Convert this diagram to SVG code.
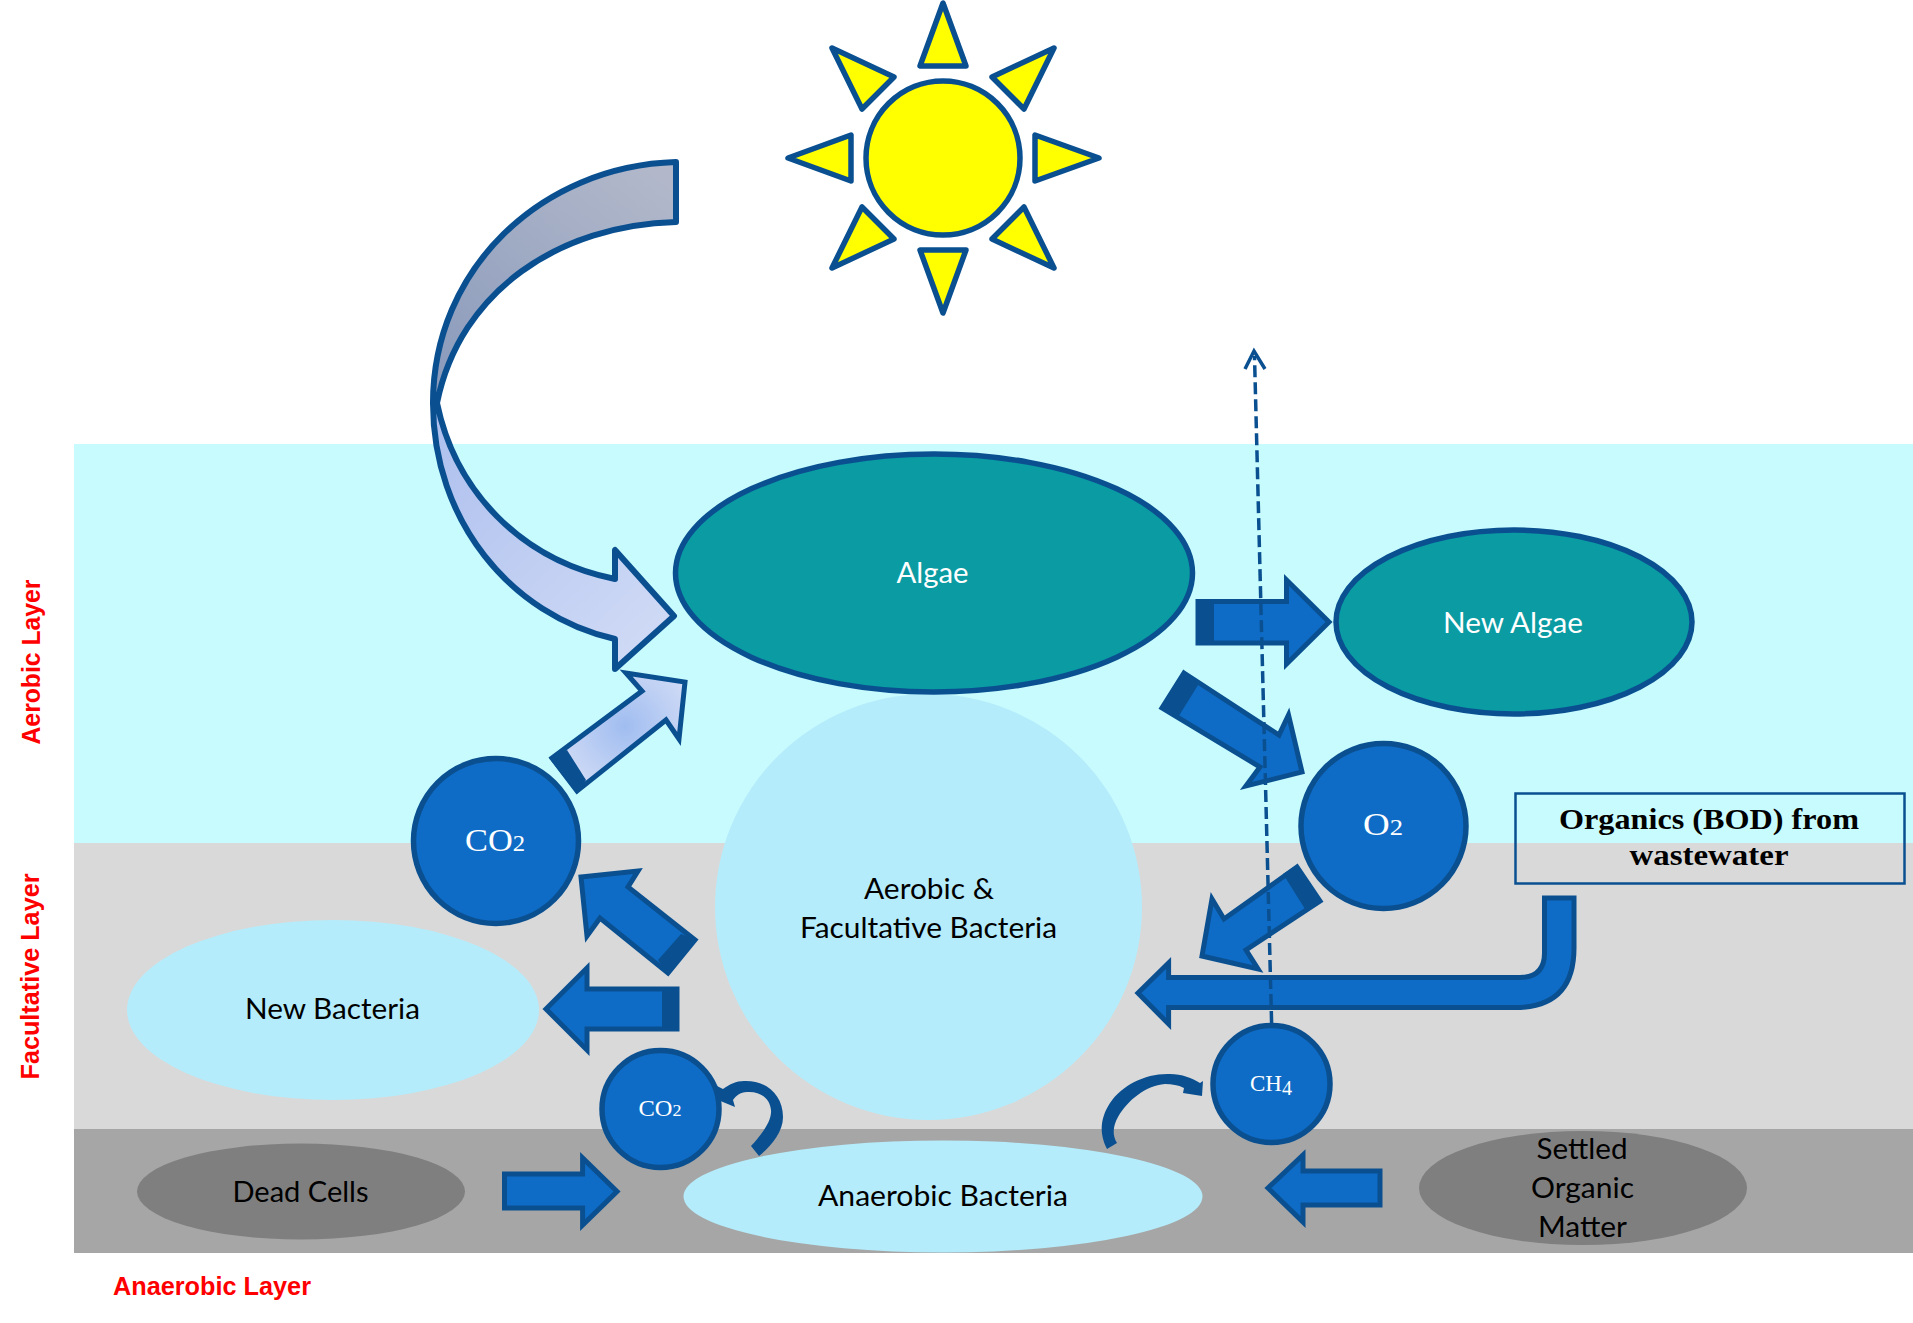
<svg xmlns="http://www.w3.org/2000/svg" width="1913" height="1323" viewBox="0 0 1913 1323">
<defs>
<linearGradient id="gUp" gradientUnits="userSpaceOnUse" x1="640" y1="160" x2="440" y2="410"><stop offset="0" stop-color="#b2b8ca"/><stop offset="1" stop-color="#8899bb"/></linearGradient>
<linearGradient id="gDown" gradientUnits="userSpaceOnUse" x1="440" y1="420" x2="670" y2="660"><stop offset="0" stop-color="#aec0ee"/><stop offset="1" stop-color="#d2dcf6"/></linearGradient>
<radialGradient id="gCo2" gradientUnits="userSpaceOnUse" cx="625" cy="726" r="75"><stop offset="0" stop-color="#a0bdf0"/><stop offset="1" stop-color="#d2dcf6"/></radialGradient>
</defs>
<style>
.band{stroke:none}
.line{stroke:#0a5091;stroke-width:5.5;stroke-linejoin:round}
.teal{fill:#0a9ba3}
.blue{fill:#0f6cc6}
.pale{fill:#b5ecfb}
.grey{fill:#7f7f7f}
.sun{fill:#ffff00;stroke:#0a5091;stroke-width:5.5;stroke-linejoin:round}
.arr{fill:#0f6cc6;stroke:#0a5091;stroke-width:5;stroke-linejoin:miter}
.tail{fill:#0a5091;stroke:none}
.cur{fill:#0a5091;stroke:none}
.lb{font-family:"Lato","Liberation Sans",sans-serif;font-size:29px;text-anchor:middle}
.sf{font-family:"Liberation Serif",serif;text-anchor:middle;fill:#fff}
.w{fill:#fff}
.k{fill:#000}
.red{font-family:"Liberation Sans",sans-serif;font-weight:700;font-size:26px;fill:#ff0000;text-anchor:middle}
.bod{font-family:"Liberation Serif",serif;font-weight:700;font-size:29px;fill:#000;text-anchor:middle}
</style>

<g id="layers">
<rect class="band" x="74" y="444" width="1839" height="399" fill="#c8fbfd"/>
<rect class="band" x="74" y="843" width="1839" height="286" fill="#d9d9d9"/>
<rect class="band" x="74" y="1129" width="1839" height="124" fill="#a6a6a6"/>
</g>

<g id="sun">
<circle class="sun" cx="943" cy="158" r="77"/>
<polygon class="sun" points="943,3 920,66 966,66"/>
<polygon class="sun" points="943,313 920,250 966,250"/>
<polygon class="sun" points="788,158 851,135 851,181"/>
<polygon class="sun" points="1099,158 1035,135 1035,181"/>
<polygon class="sun" points="832,48 894,77 862,109"/>
<polygon class="sun" points="1054,48 992,77 1024,109"/>
<polygon class="sun" points="832,268 894,239 862,207"/>
<polygon class="sun" points="1054,268 992,239 1024,207"/>
</g>

<g id="node-aerobic-bacteria">
<ellipse class="pale" cx="928.5" cy="907" rx="213.5" ry="213"/>
<text class="lb k" x="929" y="899" textLength="130" lengthAdjust="spacingAndGlyphs">Aerobic &amp;</text>
<text class="lb k" x="928.5" y="938" textLength="257" lengthAdjust="spacingAndGlyphs">Facultative Bacteria</text>
</g>
<g id="node-algae">
<ellipse class="teal line" cx="934" cy="573" rx="258.5" ry="119"/>
<text class="lb w" x="932.5" y="583" textLength="72" lengthAdjust="spacingAndGlyphs">Algae</text>
</g>
<g id="node-new-algae">
<ellipse class="teal line" cx="1514" cy="622" rx="178" ry="92"/>
<text class="lb w" x="1513" y="633" textLength="140" lengthAdjust="spacingAndGlyphs">New Algae</text>
</g>
<g id="node-co2-large">
<circle class="blue line" cx="496" cy="841" r="82.5"/>
<text class="sf" x="495" y="851" font-size="32" textLength="60" lengthAdjust="spacingAndGlyphs">CO<tspan font-size="23">2</tspan></text>
</g>
<g id="node-o2">
<circle class="blue line" cx="1383.5" cy="826" r="82.5"/>
<text class="sf" x="1383" y="835" font-size="32" textLength="40" lengthAdjust="spacingAndGlyphs">O<tspan font-size="23">2</tspan></text>
</g>
<g id="node-new-bacteria">
<ellipse class="pale" cx="333" cy="1010" rx="206" ry="90"/>
<text class="lb k" x="332.5" y="1019" textLength="175" lengthAdjust="spacingAndGlyphs">New Bacteria</text>
</g>
<g id="node-co2-small">
<circle class="blue line" cx="660.5" cy="1109" r="58.5"/>
<text class="sf" x="660" y="1116" font-size="23" textLength="43" lengthAdjust="spacingAndGlyphs">CO<tspan font-size="17">2</tspan></text>
</g>
<g id="node-ch4">
<circle class="blue line" cx="1271.5" cy="1084" r="58.5"/>
<text class="sf" x="1271" y="1091" font-size="24" textLength="42" lengthAdjust="spacingAndGlyphs">CH<tspan font-size="21" dy="4">4</tspan></text>
</g>
<g id="node-dead-cells">
<ellipse class="grey" cx="301" cy="1191.5" rx="164" ry="48"/>
<text class="lb k" x="300.5" y="1201.5" textLength="136" lengthAdjust="spacingAndGlyphs">Dead Cells</text>
</g>
<g id="node-anaerobic-bacteria">
<ellipse class="pale" cx="943" cy="1196.5" rx="259.5" ry="56"/>
<text class="lb k" x="943" y="1206" textLength="250" lengthAdjust="spacingAndGlyphs">Anaerobic Bacteria</text>
</g>
<g id="node-settled">
<ellipse class="grey" cx="1583" cy="1188" rx="164" ry="57"/>
<text class="lb k" x="1582" y="1159" textLength="91" lengthAdjust="spacingAndGlyphs">Settled</text>
<text class="lb k" x="1582.5" y="1198" textLength="103" lengthAdjust="spacingAndGlyphs">Organic</text>
<text class="lb k" x="1582.5" y="1237" textLength="89" lengthAdjust="spacingAndGlyphs">Matter</text>
</g>
<g id="node-bod">
<rect x="1515.5" y="793.5" width="389" height="90" fill="none" stroke="#0a5091" stroke-width="2.5"/>
<text class="bod" x="1709" y="829" textLength="300" lengthAdjust="spacingAndGlyphs">Organics (BOD) from</text>
<text class="bod" x="1709" y="865" textLength="159" lengthAdjust="spacingAndGlyphs">wastewater</text>
</g>

<g id="connectors">
<path d="M676,162 C540,166 433,270 433,403 L437,403 C460,290 560,225 676,222 Z" fill="url(#gUp)" stroke="#0a5091" stroke-width="6" stroke-linejoin="round"/>
<path d="M433,403 C433,520 510,615 615,639 L615,669 L674,616 L615,550 L615,579 C520,560 455,490 437,403 Z" fill="url(#gDown)" stroke="#0a5091" stroke-width="6" stroke-linejoin="round"/>

<g id="co2-to-algae">
<path d="M552,758 L642,691 L626,673 L685,682 L679,739 L666,720 L577,791 Z" fill="url(#gCo2)" stroke="#0a5091" stroke-width="5"/>
<path class="tail" d="M549,758 L567,750 L586,780 L577,794 Z"/>
</g>
<g id="algae-to-newalgae">
<path class="arr" d="M1198,601.5 L1286.5,601.5 L1286.5,580 L1329,622 L1286.5,664 L1286.5,643 L1198,643 Z"/>
<rect class="tail" x="1196" y="600" width="18" height="44.5"/>
</g>
<g id="algae-to-o2">
<path class="arr" d="M1184,673 L1279,735 L1288.5,715 L1302,772 L1246,786 L1260,767 L1162,708 Z"/>
<path class="tail" d="M1183.5,671 L1200,682 L1177,719 L1160,708 Z"/>
</g>
<g id="o2-to-bod">
<path class="arr" d="M1297,867 L1224,919 L1212,899 L1202,956 L1258,969 L1246,950 L1320,901 Z"/>
<path class="tail" d="M1297,865 L1321.5,901 L1305,909 L1283,874 Z"/>
</g>
<path id="bod-to-bacteria" class="arr" d="M1138,993 L1168.6,963 L1168.6,977.5 L1520,977.5 Q1544.5,977.5 1544.5,953 L1544.5,898 L1574,898 L1574,948 Q1574,1007.5 1515,1007.5 L1168.6,1007.5 L1168.6,1024 Z"/>
<g id="bacteria-to-co2">
<path class="arr" d="M581,877 L638,871 L628,887 L695,940 L668,973 L600,918 L587,936 Z"/>
<path class="tail" d="M696.5,939.6 L668,975 L658,960 L681,934 Z"/>
</g>
<g id="bacteria-to-newbacteria">
<path class="arr" d="M546,1009 L587,968 L587,989 L677,989 L677,1029 L587,1029 L587,1050 Z"/>
<rect class="tail" x="662" y="987" width="16.5" height="44"/>
</g>
<path id="dead-to-co2" class="arr" d="M504.5,1174 L582.6,1174 L582.6,1158 L617,1191.5 L582.6,1225 L582.6,1208 L504.5,1208 Z"/>
<path id="settled-to-ch4" class="arr" d="M1380,1171 L1303,1171 L1303,1155 L1268,1188 L1303,1222 L1303,1205 L1380,1205 Z"/>
<path id="anaerobic-to-co2" class="cur" d="M751,1146 C760,1136 772,1122 771,1110 C770,1098 760,1091 747,1092 C740,1092 736,1096 733,1100 L735,1107 L718,1100 L717,1086 L723,1089 C730,1084 736,1081 744,1081 C766,1080 783,1095 783,1117 C783,1133 770,1147 759,1156 Z"/>
<path id="anaerobic-to-ch4" class="cur" d="M1107,1149 C1100,1135 1099,1120 1110,1103 C1122,1085 1146,1073 1170,1074 C1182,1074 1192,1078 1200,1083 L1203,1081 L1202,1096 L1183,1093 L1184,1088 C1178,1085 1172,1084 1165,1084 C1145,1086 1128,1100 1118,1117 C1113,1126 1112,1135 1117,1143 Z"/>
<g id="ch4-to-air" fill="none" stroke="#0a5091">
<path d="M1271.6,1023 L1254.5,356" stroke-width="3.5" stroke-dasharray="12 5"/>
<path d="M1245,369 L1254,351 L1265,369" stroke-width="3.5"/>
</g>
</g>

<g id="labels">
<text class="red" transform="translate(40,662) rotate(-90)" textLength="165" lengthAdjust="spacingAndGlyphs">Aerobic Layer</text>
<text class="red" transform="translate(39,976.5) rotate(-90)" textLength="206" lengthAdjust="spacingAndGlyphs">Facultative Layer</text>
<text class="red" x="212" y="1295" textLength="198" lengthAdjust="spacingAndGlyphs">Anaerobic Layer</text>
</g>
</svg>
